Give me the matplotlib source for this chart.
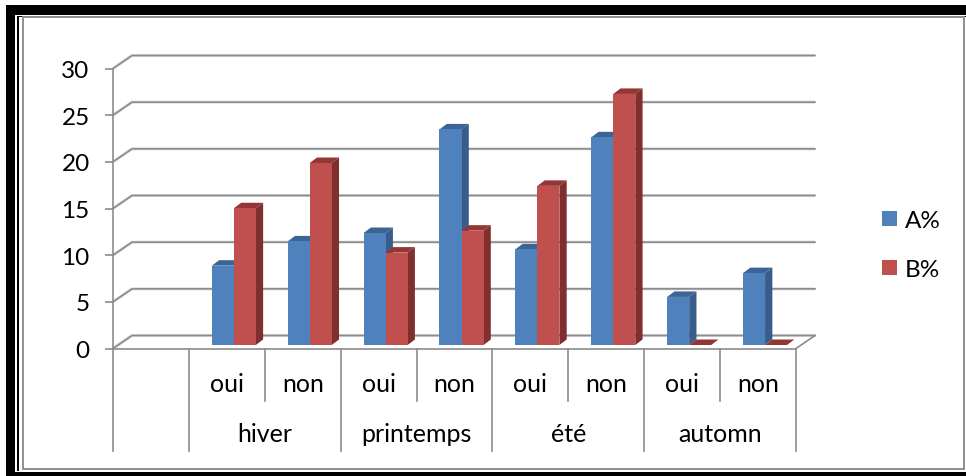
import matplotlib
matplotlib.use("Agg")
import matplotlib.pyplot as plt
from matplotlib.patches import Rectangle, Patch

plt.rcParams['font.family'] = ['Lato', 'DejaVu Sans']

seasons = ["hiver", "printemps", "été", "automn"]
answers = ["oui", "non", "oui", "non", "oui", "non", "oui", "non"]
series_names = ["A%", "B%"]
a_values = [8.5, 11.1, 12.0, 23.1, 10.25, 22.25, 5.15, 7.7]
b_values = [14.65, 19.5, 9.9, 12.25, 17.05, 26.9, 0, 0]
y_ticks = [0, 5, 10, 15, 20, 25, 30]

BLUE = ("#4f81bd", "#385d8a", "#3c6494")
RED = ("#c0504d", "#7f2f2d", "#943634")
LINE = "#8c8c8c"

SLOT_PX = 683 / 9
UNIT_PX = 280 / 30


def px_x(p):
    return p / SLOT_PX


def px_y(p):
    return p / UNIT_PX


fig = plt.figure(figsize=(9.66, 4.77), dpi=100)

# frame around the picture, in pixels
bg = fig.add_axes([0, 0, 1, 1], zorder=-1)
bg.set_xlim(0, 966)
bg.set_ylim(477, 0)
bg.axis("off")
bg.add_patch(Rectangle((6, 6), 960, 471, fc="black", ec="none"))
bg.add_patch(Rectangle((15, 15.5), 951, 457, fc="white", ec="none"))
bg.add_patch(Rectangle((16.7, 16.5), 949, 2, fc="black", ec="none"))
bg.add_patch(Rectangle((16.7, 16.5), 2, 455, fc="black", ec="none"))
bg.add_patch(Rectangle((18.7, 18), 947.3, 453, fc="white", ec="none"))
bg.add_patch(Rectangle((22.5, 17.8), 941.5, 451.7, fc="white", ec="#8f8f8f", lw=1.4))

ax = fig.add_axes([113 / 966, (477 - 349.5) / 477, 683 / 966, 280 / 477])
ax.set_xlim(0, 9)
ax.set_ylim(0, 30)
ax.patch.set_visible(False)
for name in ["top", "right"]:
    ax.spines[name].set_visible(False)
for name in ["left", "bottom"]:
    ax.spines[name].set_color(LINE)
    ax.spines[name].set_linewidth(1.2)

# back wall lines and floor
back_x = px_x(19)
back_y = px_y(13)
for v in y_ticks:
    ax.plot([9 + back_x, back_x, 0], [v + back_y, v + back_y, v], color="#dcdcdc",
            lw=2.2, clip_on=False, zorder=1, solid_capstyle="butt")
    ax.plot([9 + back_x, back_x, 0], [v + back_y, v + back_y, v], color=LINE,
            lw=1.2, clip_on=False, zorder=1.1)
ax.plot([9, 9 + back_x], [0, back_y], color=LINE, lw=1.2, clip_on=False, zorder=1.1)

# bars, drawn left to right so the front faces cover the sides
bar_w = 22 / SLOT_PX
base = px_y(3.5)
shift = px_x(7)
side_x = px_x(7.3)
side_y = px_y(5.5)
z = 2
for i in range(len(answers)):
    for j, (vals, cols) in enumerate([(a_values, BLUE), (b_values, RED)]):
        left = i + 1 + 0.5 + shift + (j - 1) * bar_w
        right = left + bar_w
        top = base + vals[i]
        ax.fill([right, right + side_x, right + side_x, right],
                [base, base + side_y, top + side_y, top], color=cols[1], lw=0,
                zorder=z, clip_on=False)
        ax.fill([left, left + side_x, right + side_x, right],
                [top, top + side_y, top + side_y, top], color=cols[2], lw=0,
                zorder=z, clip_on=False)
        ax.bar(left, vals[i], bar_w, bottom=base, align="edge", color=cols[0], lw=0,
               zorder=z + 0.5, clip_on=False)
        z += 1

# category table under the axis
ax.set_xticks([])
ax.set_yticks(y_ticks)
ax.tick_params(axis="y", length=5.8, width=1.2, color=LINE, pad=11, labelsize=17.5)
for i in range(10):
    low = -11.0 if i < 2 or i % 2 == 1 else -5.6
    ax.plot([i, i], [0, low], color=LINE, lw=1.2, clip_on=False, zorder=1)
for i, label in enumerate(answers):
    ax.text(i + 1.5, -3.8, label, ha="center", va="center", fontsize=18)
for i, label in enumerate(seasons):
    ax.text(2 * i + 2, -9.1, label, ha="center", va="center", fontsize=18)

handles = [Patch(color=BLUE[0], lw=0), Patch(color=RED[0], lw=0)]
fig.legend(handles, series_names, loc="center left", bbox_to_anchor=(875 / 966, 1 - 246 / 477),
           frameon=False, fontsize=17.5, handlelength=0.62, handleheight=0.62,
           handletextpad=0.3, labelspacing=1.15, borderpad=0, borderaxespad=0.3)

fig.savefig("out.png", dpi=100)
